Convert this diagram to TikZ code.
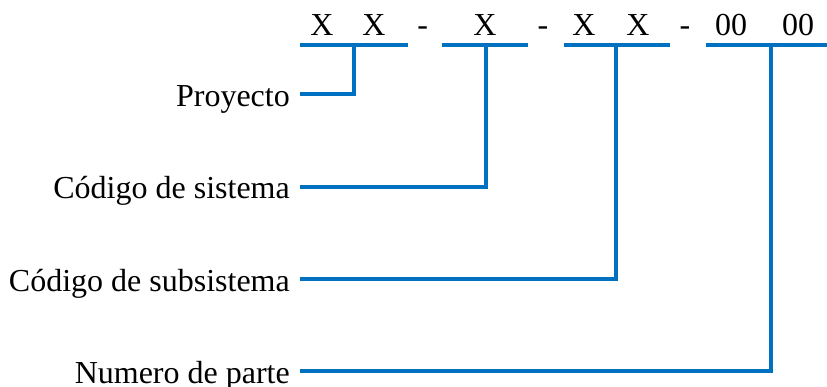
\documentclass[tikz,border=0pt]{standalone}
\usepackage{fontspec}
\setmainfont{Liberation Serif}
\definecolor{lineblue}{HTML}{0070C0}
\begin{document}
\begin{tikzpicture}[x=1pt,y=1pt,
  conn/.style={draw=lineblue,line width=3.8pt},
  code/.style={inner sep=0pt,anchor=base,font=\fontsize{32}{38}\selectfont},
  lbl/.style={inner sep=0pt,anchor=base east,font=\fontsize{32}{38}\selectfont}]
\useasboundingbox (0,0) rectangle (827,-387);
% code characters
\node[code] (c1) at (322,-36) {X};
\node[code] (c2) at (374,-36) {X};
\node[code] (d1) at (422.6,-36) {-};
\node[code] (c3) at (485,-36) {X};
\node[code] (d2) at (543,-36) {-};
\node[code] (c4) at (584,-36) {X};
\node[code] (c5) at (638,-36) {X};
\node[code] (d3) at (685,-36) {-};
\node[code] (c6) at (731,-36) {00};
\node[code] (c7) at (798,-36) {00};
% bars
\coordinate (b1l) at (300,-45); \coordinate (b1r) at (408,-45); \coordinate (b1v) at (354,-45);
\coordinate (b2l) at (442,-45); \coordinate (b2r) at (528,-45); \coordinate (b2v) at (486,-45);
\coordinate (b3l) at (564,-45); \coordinate (b3r) at (670,-45); \coordinate (b3v) at (616,-45);
\coordinate (b4l) at (706,-45); \coordinate (b4r) at (827,-45); \coordinate (b4v) at (771,-45);
\draw[conn] (b1l) -- (b1r);
\draw[conn] (b2l) -- (b2r);
\draw[conn] (b3l) -- (b3r);
\draw[conn] (b4l) -- (b4r);
% labels
\node[lbl] (l1) at (290,-106.3) {Proyecto};
\node[lbl] (l2) at (290,-198.7) {Código de sistema};
\node[lbl] (l3) at (290,-291) {Código de subsistema};
\node[lbl] (l4) at (290,-383) {Numero de parte};
\coordinate (s1) at (300,-94.3);
\coordinate (s2) at (300,-186.7);
\coordinate (s3) at (300,-279);
\coordinate (s4) at (300,-371);
\draw[conn] (s1) -| (b1v);
\draw[conn] (s2) -| (b2v);
\draw[conn] (s3) -| (b3v);
\draw[conn] (s4) -| (b4v);
\end{tikzpicture}
\end{document}
